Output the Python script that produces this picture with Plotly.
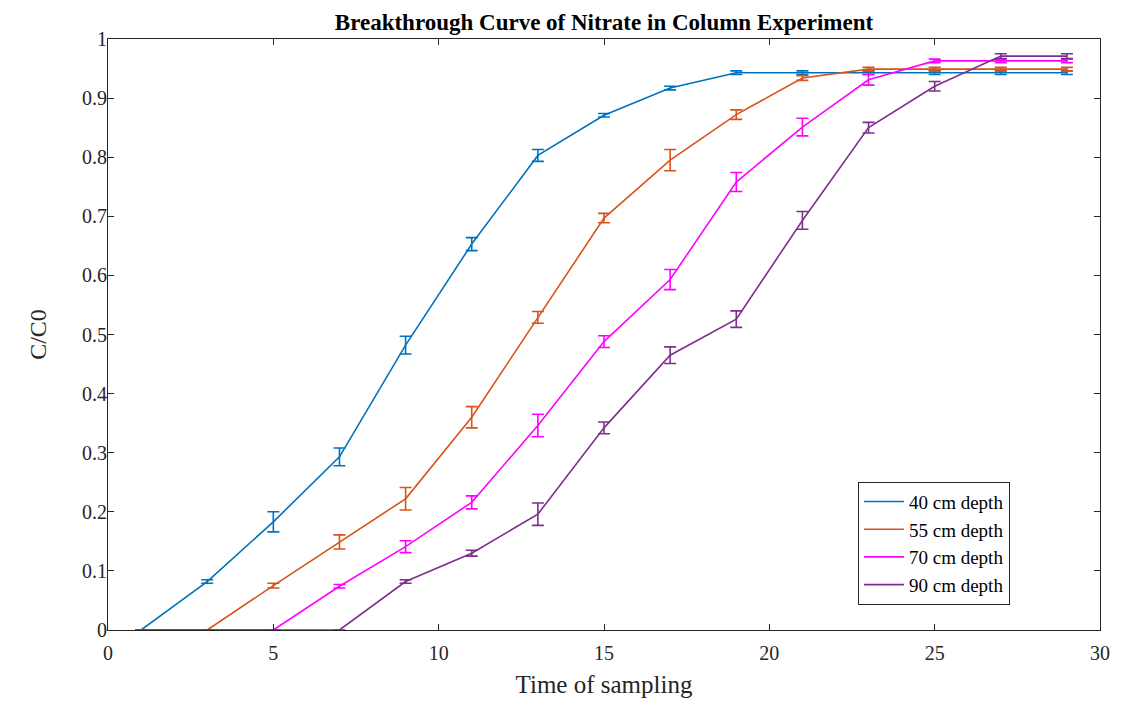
import plotly.graph_objects as go

time = [1, 3, 5, 7, 9, 11, 13, 15, 17, 19, 21, 23, 25, 27, 29]

d40 = [0, 0.082, 0.183, 0.293, 0.482, 0.653, 0.803, 0.871, 0.917, 0.943, 0.943, 0.943, 0.943, 0.943, 0.943]
e40 = [0, 0.003, 0.017, 0.015, 0.015, 0.011, 0.010, 0.003, 0.003, 0.003, 0.003, 0.003, 0.003, 0.003, 0.003]

d55 = [0, 0, 0.075, 0.149, 0.222, 0.360, 0.529, 0.697, 0.795, 0.872, 0.934, 0.949, 0.949, 0.949, 0.949]
e55 = [0, 0, 0.004, 0.012, 0.019, 0.018, 0.010, 0.008, 0.018, 0.008, 0.004, 0.003, 0.003, 0.003, 0.003]

d70 = [0, 0, 0, 0.074, 0.141, 0.216, 0.346, 0.488, 0.593, 0.758, 0.851, 0.931, 0.963, 0.963, 0.963]
e70 = [0, 0, 0, 0.003, 0.010, 0.011, 0.019, 0.010, 0.017, 0.016, 0.015, 0.009, 0.003, 0.003, 0.003]

d90 = [0, 0, 0, 0, 0.082, 0.130, 0.196, 0.342, 0.465, 0.526, 0.693, 0.850, 0.920, 0.971, 0.971]
e90 = [0, 0, 0, 0, 0.003, 0.005, 0.019, 0.010, 0.014, 0.014, 0.015, 0.009, 0.008, 0.004, 0.004]

names = ["40 cm depth", "55 cm depth", "70 cm depth", "90 cm depth"]
colors = ["#0072BD", "#D95319", "#FF00FF", "#7E2F8E"]

xticks = [0, 5, 10, 15, 20, 25, 30]
yticks = [0, 0.1, 0.2, 0.3, 0.4, 0.5, 0.6, 0.7, 0.8, 0.9, 1]
yticklabels = ["0", "0.1", "0.2", "0.3", "0.4", "0.5", "0.6", "0.7", "0.8", "0.9", "1"]

FONT = "Liberation Serif, Times New Roman, serif"

fig = go.Figure()
for name, col, ys, es in zip(names, colors, [d40, d55, d70, d90], [e40, e55, e70, e90]):
    fig.add_trace(go.Scatter(
        x=time, y=ys, name=name, mode="lines",
        line=dict(color=col, width=1.6),
        error_y=dict(type="data", array=es, visible=True, color=col, thickness=1.6, width=6),
        cliponaxis=False,
    ))

axis_common = dict(
    showline=True, linecolor="#262626", linewidth=1, mirror="allticks",
    ticks="inside", ticklen=6, tickcolor="#262626", tickwidth=1,
    showgrid=False, zeroline=False,
    tickfont=dict(family=FONT, size=20, color="#262626"),
)

fig.update_layout(
    width=1122, height=706,
    margin=dict(l=108, r=15, t=39, b=74),
    paper_bgcolor="white", plot_bgcolor="white",
    title=dict(text="<b>Breakthrough Curve of Nitrate in Column Experiment</b>",
               x=0.5, xref="paper", xanchor="center", y=1, yref="paper", yanchor="bottom",
               pad=dict(b=9),
               font=dict(family=FONT, size=23, color="black")),
    xaxis=dict(range=[0, 30], tickvals=xticks, ticktext=[str(v) for v in xticks],
               ticklabelstandoff=5,
               title=dict(text="Time of sampling", font=dict(family=FONT, size=25, color="#262626"), standoff=12),
               **axis_common),
    yaxis=dict(range=[0, 1], tickvals=yticks, ticktext=yticklabels,
               ticklabelstandoff=-4,
               title=dict(text="C/C0", font=dict(family=FONT, size=24, color="#262626"), standoff=28),
               **axis_common),
    legend=dict(x=0.756, y=0.251, xanchor="left", yanchor="top",
                bordercolor="#262626", borderwidth=1, bgcolor="white",
                font=dict(family=FONT, size=19, color="black"),
                tracegroupgap=0, itemwidth=40),
    showlegend=True,
)

fig.write_html("out.html")
